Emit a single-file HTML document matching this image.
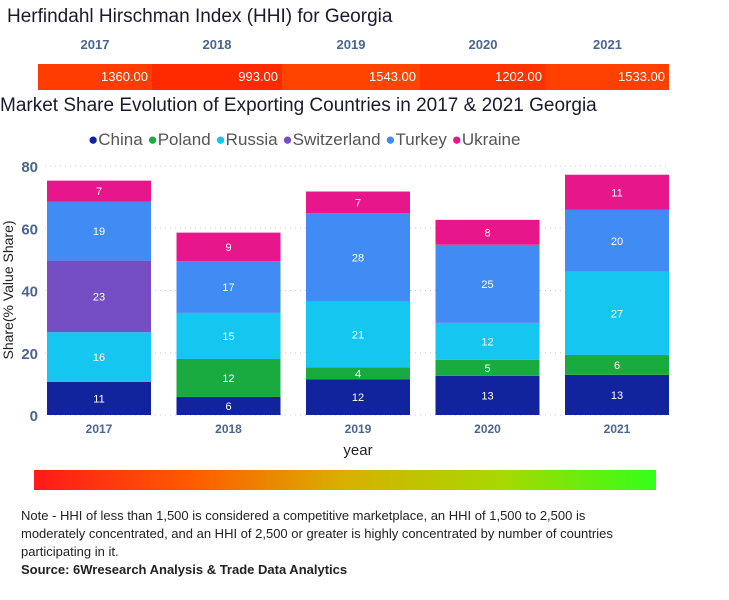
<!DOCTYPE html>
<html><head><meta charset="utf-8"><style>
body{margin:0;width:729px;height:600px;background:#fff;font-family:"Liberation Sans",sans-serif;position:relative;overflow:hidden}
.abs{position:absolute}
</style></head><body>
<div class="abs" style="left:7px;top:6px;font-size:19px;color:#1a1a2e">Herfindahl Hirschman Index (HHI) for Georgia</div>
<div id="hhi"></div>
<div class="abs" style="left:0;top:95px;font-size:19px;color:#1a1a2e">Market Share Evolution of Exporting Countries in 2017 &amp; 2021 Georgia</div>
<div class="abs" style="left:88px;top:130px;font-size:17px;color:#555;white-space:nowrap">
<span><span style="color:#12239e">●</span>China</span>
<span><span style="color:#1aab40">●</span>Poland</span>
<span><span style="color:#14c6f0">●</span>Russia</span>
<span><span style="color:#744ec2">●</span>Switzerland</span>
<span><span style="color:#418bf5">●</span>Turkey</span>
<span><span style="color:#e8168b">●</span>Ukraine</span>
</div>
<svg class="abs" id="chart" style="left:0;top:0" width="729" height="470"></svg>
<div class="abs" style="left:34px;top:470px;width:622px;height:20px;background:linear-gradient(to right,#ff1a1a,#ff5a00,#d8b000,#a8d800,#33ff1a)"></div>
<div class="abs" style="left:21px;top:507px;width:620px;font-size:13px;line-height:18px;color:#222">Note - HHI of less than 1,500 is considered a competitive marketplace, an HHI of 1,500 to 2,500 is moderately concentrated, and an HHI of 2,500 or greater is highly concentrated by number of countries participating in it.<br><b>Source: 6Wresearch Analysis &amp; Trade Data Analytics</b></div>
<script>
const years=["2017","2018","2019","2020","2021"];
const hhiValues=[1360,993,1543,1202,1533];
const seriesNames=["China","Poland","Russia","Switzerland","Turkey","Ukraine"];
const china=[10.6,5.8,11.5,12.6,12.9];
const poland=[0,12.2,3.8,5.1,6.4];
const russia=[16.0,14.8,21.1,11.9,26.7];
const switzerland=[23.0,0,0,0,0];
const turkey=[19,16.6,28.4,25.1,19.9];
const ukraine=[6.7,9.2,7,8,11.3];
const yTicks=[0,20,40,60,80];
const colors=["#12239e","#1aab40","#14c6f0","#744ec2","#418bf5","#e8168b"];
const series=[china,poland,russia,switzerland,turkey,ukraine];
const NS="http://www.w3.org/2000/svg";
const svg=document.getElementById('chart');
const y0=415,pxPer=249/80;
const yS=v=>y0-v*pxPer;
const xS=i=>47+i*129.5;
const bw=104;
function mk(t,a){const e=document.createElementNS(NS,t);for(const k in a)e.setAttribute(k,a[k]);svg.appendChild(e);return e;}
yTicks.forEach(t=>{
 const g=mk('line',{x1:45,x2:670,y1:yS(t),y2:yS(t),stroke:'#ccc','stroke-dasharray':'1,4'});
 
 
 const l=mk('text',{x:38,y:yS(t)+6,'text-anchor':'end','font-size':15,'font-weight':'bold',fill:'#4a6590'});
 l.textContent=t;
 
 
});
years.forEach((yr,i)=>{
 let cum=0;
 series.forEach((s,j)=>{
  const v=s[i]; if(!v){return;}
  const r=mk('rect',{x:xS(i),y:yS(cum+v),width:bw,height:v*pxPer,fill:colors[j]});
  
  
  const t=mk('text',{x:xS(i)+bw/2,y:yS(cum+v/2)+4,'text-anchor':'middle','font-size':11,fill:'#fff'});
  t.textContent=Math.round(v);
  
  
  cum+=v;
 });
 const xl=mk('text',{x:xS(i)+bw/2,y:433,'text-anchor':'middle','font-size':12,'font-weight':'bold',fill:'#4a6590'});
 xl.textContent=yr;
 
 
});
const xt=mk('text',{x:358,y:455,'text-anchor':'middle','font-size':15,fill:'#222'});xt.textContent='year';


const yt=mk('text',{x:0,y:0,'text-anchor':'middle','font-size':14,fill:'#222',transform:'translate(13,290) rotate(-90)'});yt.textContent='Share(% Value Share)';


const hhi=document.getElementById('hhi');
const hx=[38,152,282,420,546,669];
const hcol=["#ff3d00","#ff2a00","#ff4400","#ff3300","#ff4000"];
years.forEach((yr,i)=>{
 const h=document.createElement('div');h.className='abs';
 h.style.cssText=`left:${hx[i]}px;top:37px;width:${hx[i+1]-hx[i]}px;text-align:center;font-size:13px;font-weight:bold;color:#4a6590`;
 h.textContent=yr;
 
 
 hhi.appendChild(h);
 const c=document.createElement('div');c.className='abs';
 c.style.cssText=`left:${hx[i]}px;top:64px;width:${hx[i+1]-hx[i]-4}px;padding-right:4px;height:26px;line-height:26px;text-align:right;font-size:13px;color:#fff;background:${hcol[i]}`;
 c.textContent=hhiValues[i].toFixed(2);
 
 
 hhi.appendChild(c);
});
</script>
</body></html>
